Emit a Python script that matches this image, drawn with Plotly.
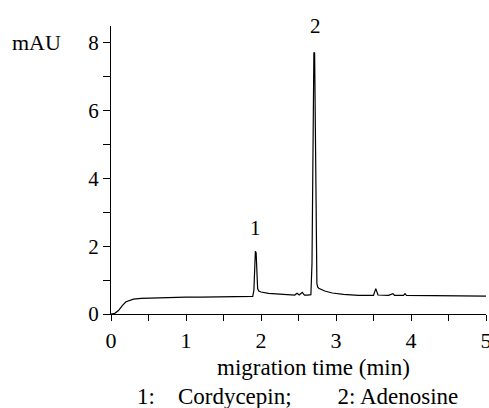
import plotly.graph_objects as go

# migration time (min) and absorbance (mAU)
time_min = [0.0, 0.05, 0.1, 0.15, 0.2, 0.25, 0.3, 0.4, 0.6, 0.8, 1.0, 1.2, 1.5, 1.8, 1.89,
            1.905, 1.915, 1.925, 1.935, 1.945, 1.955, 1.97, 2.0, 2.1, 2.2, 2.3, 2.4, 2.45,
            2.48, 2.51, 2.55, 2.58, 2.62, 2.665, 2.68, 2.695, 2.705, 2.715, 2.725, 2.735,
            2.745, 2.755, 2.77, 2.85, 2.95, 3.1, 3.3, 3.5, 3.53, 3.56, 3.7, 3.76, 3.78, 3.9,
            3.92, 3.94, 4.2, 4.5, 4.8, 5.0]
signal_mau = [0.0, 0.02, 0.1, 0.25, 0.36, 0.41, 0.44, 0.46, 0.48, 0.49, 0.5, 0.5, 0.51, 0.52, 0.52,
              0.7, 1.5, 1.85, 1.8, 1.2, 0.75, 0.68, 0.65, 0.61, 0.59, 0.57, 0.56, 0.56,
              0.61, 0.56, 0.64, 0.56, 0.56, 0.57, 1.5, 5.0, 7.72, 7.7, 5.5, 2.0,
              0.9, 0.8, 0.76, 0.68, 0.62, 0.58, 0.55, 0.55, 0.75, 0.56, 0.55, 0.6, 0.55, 0.55,
              0.6, 0.55, 0.54, 0.53, 0.53, 0.53]

peak_labels = ["1", "2"]
peak_x = [1.925, 2.73]
peak_y = [2.55, 8.5]

x_ticks = [0, 1, 2, 3, 4, 5]
y_ticks = [0, 2, 4, 6, 8]

FONT = "Liberation Serif"

fig = go.Figure()
fig.add_trace(go.Scatter(x=time_min, y=signal_mau, mode="lines",
                         line=dict(color="black", width=1.2), showlegend=False))

for t, px, py in zip(peak_labels, peak_x, peak_y):
    fig.add_annotation(x=px, y=py, text=t, showarrow=False, xref="x", yref="y",
                       font=dict(family=FONT, size=21, color="black"))

fig.add_annotation(xref="paper", yref="paper", x=-0.2, y=8 / 8.5, text="mAU",
                   showarrow=False, xanchor="center", yanchor="middle",
                   font=dict(family=FONT, size=22, color="black"))
fig.add_annotation(xref="paper", yref="paper", x=0.54, y=0, yshift=-53, text="migration time (min)",
                   showarrow=False, xanchor="center", yanchor="middle",
                   font=dict(family=FONT, size=23, color="black"))
fig.add_annotation(xref="paper", yref="paper", x=0.496, y=0, yshift=-82,
                   text="1:\u00a0\u00a0\u00a0 Cordycepin;\u00a0\u00a0\u00a0\u00a0\u00a0\u00a0\u00a0 2: Adenosine",
                   showarrow=False, xanchor="center", yanchor="middle",
                   font=dict(family=FONT, size=23, color="black"))

fig.update_layout(
    width=489, height=408,
    margin=dict(l=111, r=3, t=26, b=94),
    paper_bgcolor="white", plot_bgcolor="white",
    font=dict(family=FONT, size=21, color="black"),
)
fig.update_xaxes(range=[0, 5], tickvals=x_ticks, ticks="outside", ticklen=6, tickwidth=1.2,
                 tickcolor="black", showline=True, linecolor="black", linewidth=1.2,
                 showgrid=False, zeroline=False, automargin=False, ticklabeloverflow="allow",
                 minor=dict(dtick=0.5, ticks="outside", ticklen=6, tickwidth=1.2, tickcolor="black"),
                 tickfont=dict(family=FONT, size=22))
fig.update_yaxes(range=[0, 8.5], tickvals=y_ticks, ticks="outside", ticklen=7, tickwidth=1.2,
                 tickcolor="black", showline=True, linecolor="black", linewidth=1.2,
                 showgrid=False, zeroline=False, automargin=False,
                 minor=dict(tickvals=[1, 3, 5, 7], ticks="outside", ticklen=7, tickwidth=1.2,
                            tickcolor="black"),
                 tickfont=dict(family=FONT, size=21))

fig.write_html("out.html", config={"displayModeBar": False},
               post_script="document.body.style.margin='0';")
